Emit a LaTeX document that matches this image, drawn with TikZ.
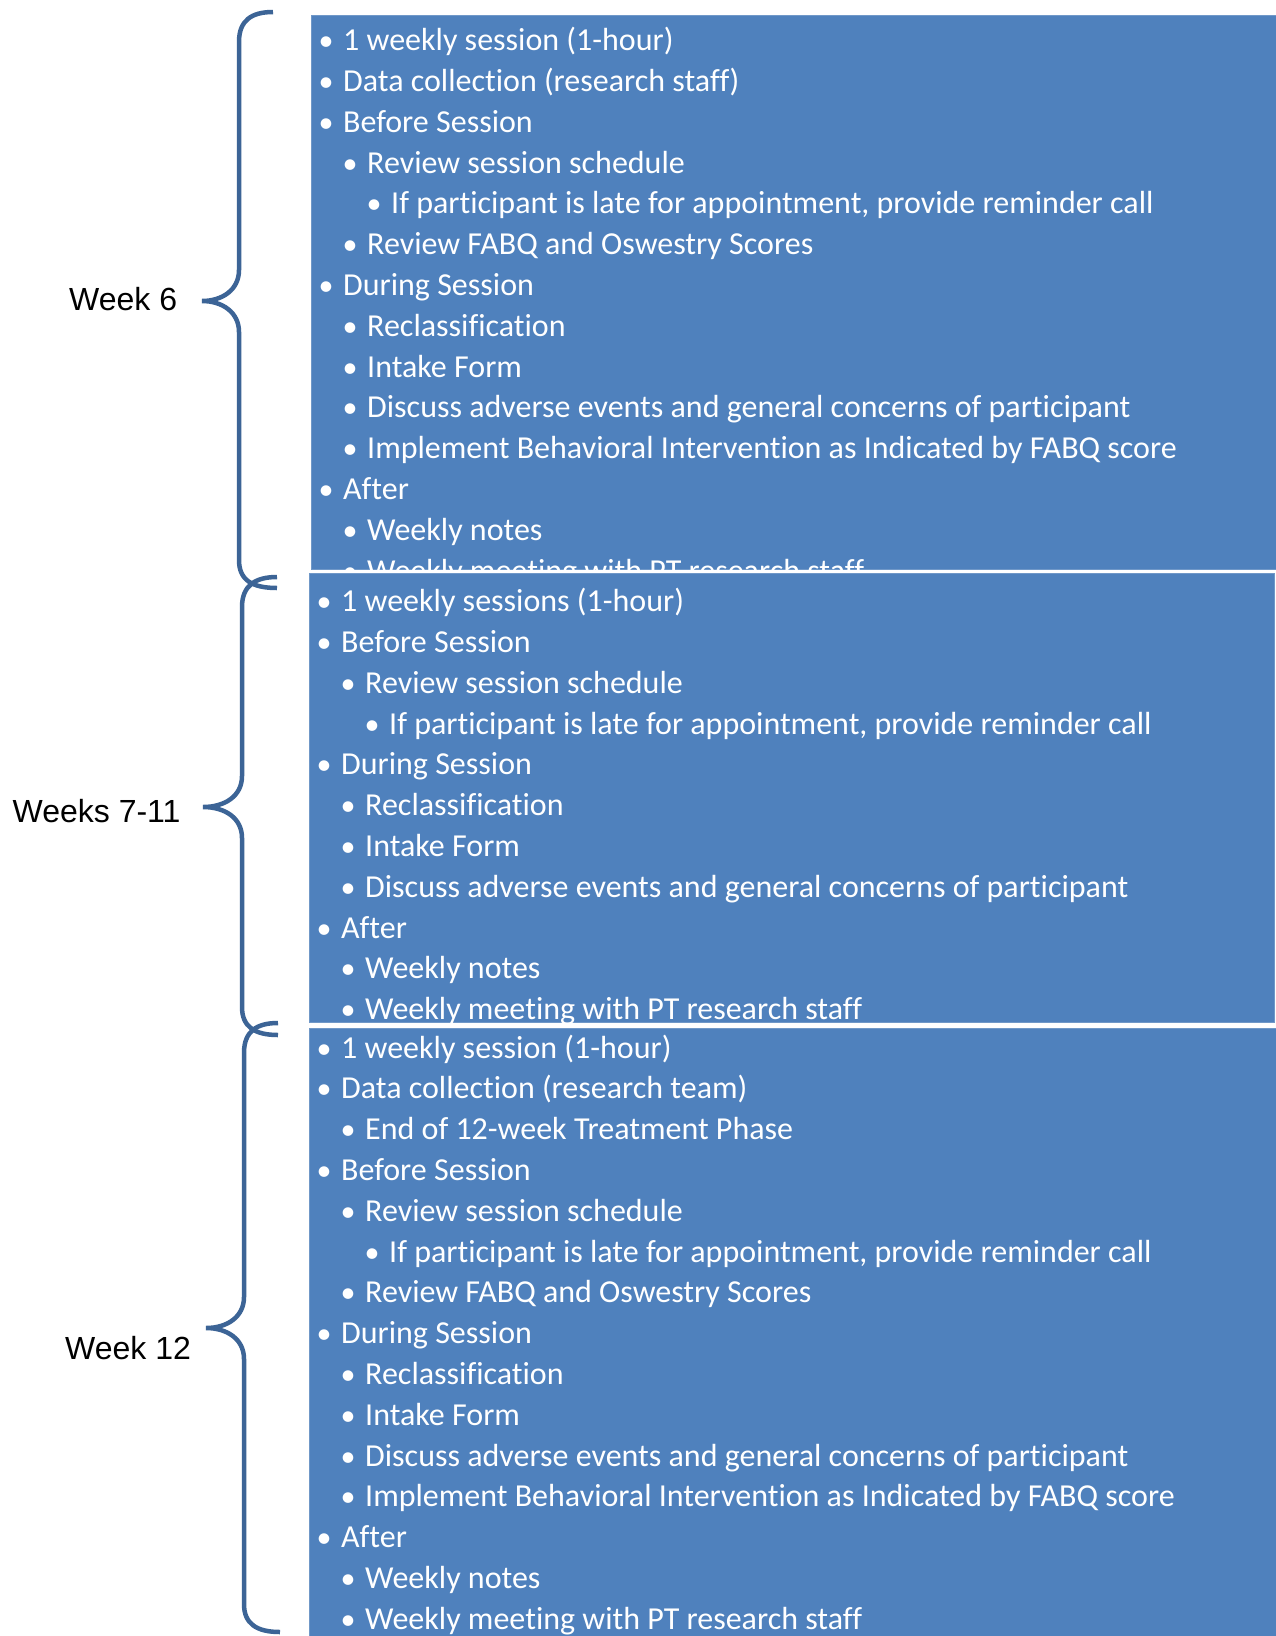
\documentclass[tikz,border=0pt]{standalone}
\usepackage{fontspec}
\setmainfont{Carlito}[Ligatures=NoCommon]
\newfontfamily\labelfont{Liberation Sans}
\definecolor{boxblue}{RGB}{79,129,189}
\definecolor{boxedge}{RGB}{112,152,200}
\definecolor{braceblue}{RGB}{60,100,150}
\begin{document}
\begin{tikzpicture}[x=1pt,y=-1pt,
  panel/.style={fill=boxblue, draw=boxedge, line width=1pt},
  item/.style={anchor=base west, inner sep=0pt, text=white, font=\fontsize{32}{38}\selectfont},
  dot/.style={anchor=base, inner sep=0pt, text=white, font=\fontsize{30}{36}\selectfont},
  weeklabel/.style={anchor=base west, inner sep=0pt, text=black, font=\labelfont\fontsize{32}{38}\selectfont},
  bracket/.style={draw=braceblue, line width=4.5pt}]
\useasboundingbox[fill=white] (0,0) rectangle (1276,1636);

% three session panels
\draw[panel] (311,15) rectangle (1290,569);
\draw[panel] (309,573) rectangle (1274,1022);
\draw[panel] (309,1028) rectangle (1290,1650);

% week 6 items
\begin{scope}
\clip (311,15) rectangle (1290,569);
\foreach \lv/\txt [count=\i] in {
  1/{1 weekly session (1-hour)},
  1/{Data collection (research staff)},
  1/{Before Session},
  2/{Review session schedule},
  3/{If participant is late for appointment, provide reminder call},
  2/{Review FABQ and Oswestry Scores},
  1/{During Session},
  2/{Reclassification},
  2/{Intake Form},
  2/{Discuss adverse events and general concerns of participant},
  2/{Implement Behavioral Intervention as Indicated by FABQ score},
  1/{After},
  2/{Weekly notes},
  2/{Weekly meeting with PT research staff}} {
  \pgfmathsetmacro\xx{343+(\lv-1)*24}
  \pgfmathsetmacro\yy{50.7+(\i-1)*40.8}
  \node[dot] (a\i-dot) at (\xx-17,\yy) {•};
  \node[item] (a\i) at (\xx,\yy) {\txt};
}
\end{scope}

% weeks 7-11 items
\begin{scope}
\clip (309,573) rectangle (1274,1022);
\foreach \lv/\txt [count=\i] in {
  1/{1 weekly sessions (1-hour)},
  1/{Before Session},
  2/{Review session schedule},
  3/{If participant is late for appointment, provide reminder call},
  1/{During Session},
  2/{Reclassification},
  2/{Intake Form},
  2/{Discuss adverse events and general concerns of participant},
  1/{After},
  2/{Weekly notes},
  2/{Weekly meeting with PT research staff}} {
  \pgfmathsetmacro\xx{341+(\lv-1)*24}
  \pgfmathsetmacro\yy{611.7+(\i-1)*40.8}
  \node[dot] (b\i-dot) at (\xx-17,\yy) {•};
  \node[item] (b\i) at (\xx,\yy) {\txt};
}
\end{scope}

% week 12 items
\begin{scope}
\clip (309,1028) rectangle (1290,1650);
\foreach \lv/\txt [count=\i] in {
  1/{1 weekly session (1-hour)},
  1/{Data collection (research team)},
  2/{End of 12-week Treatment Phase},
  1/{Before Session},
  2/{Review session schedule},
  3/{If participant is late for appointment, provide reminder call},
  2/{Review FABQ and Oswestry Scores},
  1/{During Session},
  2/{Reclassification},
  2/{Intake Form},
  2/{Discuss adverse events and general concerns of participant},
  2/{Implement Behavioral Intervention as Indicated by FABQ score},
  1/{After},
  2/{Weekly notes},
  2/{Weekly meeting with PT research staff}} {
  \pgfmathsetmacro\xx{341+(\lv-1)*24}
  \pgfmathsetmacro\yy{1058+(\i-1)*40.8}
  \node[dot] (c\i-dot) at (\xx-17,\yy) {•};
  \node[item] (c\i) at (\xx,\yy) {\txt};
}
\end{scope}

% curly brackets
\draw[bracket] (273,12) .. controls (252,12) and (239,20) .. (239,42) -- (239,270)
  .. controls (239,290) and (222,301) .. (202,301)
  .. controls (222,301) and (239,312) .. (239,332) -- (239,560)
  .. controls (239,580) and (252,588) .. (277,588);
\draw[bracket] (277,577) .. controls (256,577) and (242,585) .. (242,607) -- (242,776)
  .. controls (242,796) and (225,807) .. (203,807)
  .. controls (225,807) and (242,818) .. (242,838) -- (242,1007)
  .. controls (242,1027) and (255,1035) .. (278,1035);
\draw[bracket] (278,1023) .. controls (257,1023) and (244,1031) .. (244,1053) -- (244,1297)
  .. controls (244,1317) and (227,1328) .. (206,1328)
  .. controls (227,1328) and (244,1339) .. (244,1359) -- (244,1604)
  .. controls (244,1624) and (257,1632) .. (280,1632);

% week labels
\node[weeklabel] (w6) at (69,310) {Week 6};
\node[weeklabel] (w7) at (12.5,822) {Weeks 7-11};
\node[weeklabel] (w12) at (65,1359) {Week 12};
\end{tikzpicture}
\end{document}
